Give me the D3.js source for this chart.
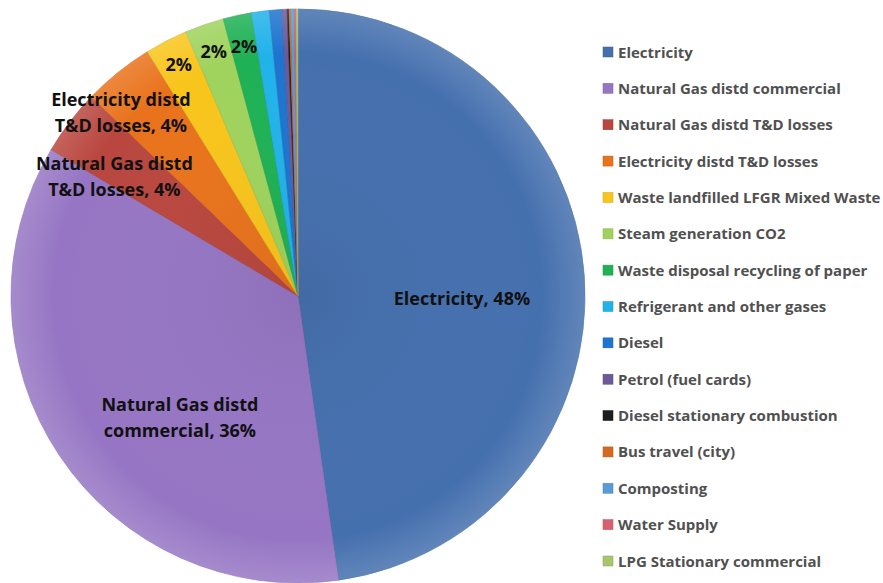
<!DOCTYPE html>
<html>
<head>
<meta charset="utf-8">
<script src="https://cdn.jsdelivr.net/npm/d3@7"></script>
<style>
  body { margin: 0; background: #fff; }
  svg { display: block; font-family: "Open Sans", Lato, sans-serif; }
</style>
</head>
<body>
<div id="chart"></div>
<script>
// Emission sources (share of total, %)
const categories = [
  "Electricity", "Natural Gas distd commercial", "Natural Gas distd T&D losses",
  "Electricity distd T&D losses", "Waste landfilled LFGR Mixed Waste", "Steam generation CO2",
  "Waste disposal recycling of paper", "Refrigerant and other gases", "Diesel",
  "Petrol (fuel cards)", "Diesel stationary combustion", "Bus travel (city)",
  "Composting", "Water Supply", "LPG Stationary commercial"
];
const values = [47.8, 35.8, 3.7, 4.0, 2.4, 2.2, 1.6, 1.0, 0.7, 0.3, 0.1, 0.1, 0.2, 0.1, 0.1];
const colors = [
  "#4570ae", "#9676c4", "#b9473f", "#e9731c", "#f8c51c", "#9fd35d",
  "#1fb155", "#22b2ea", "#1f74cf", "#6b5a9a", "#1c1c1c", "#d4691f",
  "#5b9bd5", "#d9606e", "#a8c46c"
];
// Which slices carry a label, and the label's text prefix
const labelNames = [
  "Electricity", "Natural Gas distd\ncommercial", "Natural Gas distd\nT&D losses",
  "Electricity distd\nT&D losses", "", "", ""
];

const width = 883, height = 583;
const cx = 298, cy = 296, R = 287;

const svg = d3.select("#chart").append("svg")
  .attr("width", width).attr("height", height);

const defs = svg.append("defs");
const shade = defs.append("radialGradient")
  .attr("id", "shade").attr("gradientUnits", "userSpaceOnUse")
  .attr("cx", cx).attr("cy", cy).attr("r", R);
shade.append("stop").attr("offset", "0%").attr("stop-color", "#000").attr("stop-opacity", 0.05);
shade.append("stop").attr("offset", "85%").attr("stop-color", "#fff").attr("stop-opacity", 0.0);
shade.append("stop").attr("offset", "100%").attr("stop-color", "#fff").attr("stop-opacity", 0.15);

const data = categories.map((c, i) => ({ name: c, value: values[i], color: colors[i] }));
const total = d3.sum(values);

const pie = d3.pie().value(d => d.value).sort(null);
const arc = d3.arc().innerRadius(0).outerRadius(R);
const arcs = pie(data);

const g = svg.append("g").attr("transform", `translate(${cx},${cy})`);

g.selectAll("path.slice")
  .data(arcs)
  .enter().append("path")
  .attr("class", "slice")
  .attr("d", arc)
  .attr("fill", d => d.data.color)
  .attr("stroke", d => d3.color(d.data.color).darker(0.3))
  .attr("stroke-width", 0.6);

// soft bevel look over the whole pie
g.append("circle").attr("r", R).attr("fill", "url(#shade)")
  .attr("transform", `translate(${-cx},${-cy})`)
  .attr("cx", cx).attr("cy", cy);

// label placement: [angle in degrees, radius]; null angle means slice mid-angle
const labelPlace = [[91, 164], [224, 170], [303, 219], [316, 255], [null, 260], [null, 258], [null, 255]];
const fmt = d3.format(".0%");

arcs.slice(0, labelNames.length).forEach((a, i) => {
  const [ang, r] = labelPlace[i];
  const t = ang === null ? (a.startAngle + a.endAngle) / 2 : ang * Math.PI / 180;
  const x = r * Math.sin(t), y = -r * Math.cos(t);
  const pct = fmt(a.data.value / total);
  const lines = labelNames[i] === "" ? [pct] : (labelNames[i] + ", " + pct).split("\n");
  const text = g.append("text")
    .attr("x", x).attr("y", y)
    .attr("text-anchor", "middle")
    .style("font-size", "18px").style("font-weight", "bold").style("fill", "#111");
  lines.forEach((ln, k) => {
    text.append("tspan")
      .attr("x", x)
      .attr("y", y + (k - (lines.length - 1) / 2) * 26 + 6)
      .text(ln);
  });
});

// Legend
const legend = svg.append("g").attr("transform", "translate(603,0)");
const rowY = d3.scalePoint().domain(categories).range([52, 561]);
const item = legend.selectAll("g.item")
  .data(data)
  .enter().append("g")
  .attr("class", "item")
  .attr("transform", d => `translate(0,${rowY(d.name)})`);

item.append("rect")
  .attr("x", 0).attr("y", -5).attr("width", 10).attr("height", 10)
  .attr("fill", d => d.color)
  .attr("stroke", d => d3.color(d.color).darker(0.5)).attr("stroke-width", 0.5);

item.append("text")
  .attr("x", 15).attr("y", 5.5)
  .style("font-size", "15px").style("font-weight", "bold").style("fill", "#505050")
  .text(d => d.name);
</script>
</body>
</html>
